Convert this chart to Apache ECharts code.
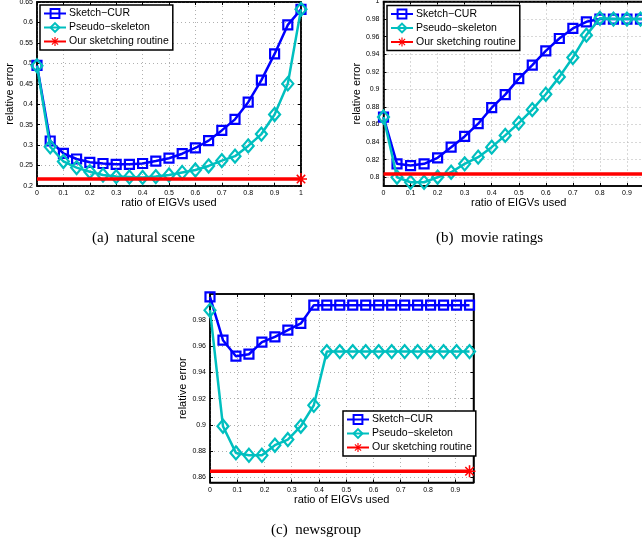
<!DOCTYPE html>
<html><head><meta charset="utf-8">
<script src="https://cdn.jsdelivr.net/npm/echarts@6/dist/echarts.min.js"></script>
<style>html,body{margin:0;padding:0;background:#fff}#c{width:642px;height:548px}</style>
</head><body><div id="c"></div>
<script>
// ---- data ----
const legendNames = ['Sketch\u2212CUR', 'Pseudo\u2212skeleton', 'Our sketching routine'];
const captions = ['(a)  natural scene', '(b)  movie ratings', '(c)  newsgroup'];
const axisTitleX = 'ratio of EIGVs used';
const axisTitleY = 'relative error';

const ratioX = [0,0.05,0.1,0.15,0.2,0.25,0.3,0.35,0.4,0.45,0.5,0.55,0.6,0.65,0.7,0.75,0.8,0.85,0.9,0.95,1];
const newsX = [0,0.0476,0.0952,0.1429,0.1905,0.2381,0.2857,0.3333,0.381,0.4286,0.4762,0.5238,0.5714,0.619,0.6667,0.7143,0.7619,0.8095,0.8571,0.9048,0.9524];

const natCur = [0.495,0.31,0.28,0.266,0.258,0.255,0.253,0.253,0.255,0.261,0.268,0.279,0.293,0.311,0.336,0.363,0.405,0.459,0.523,0.594,0.632];
const natPseudo = [0.494,0.296,0.26,0.245,0.235,0.227,0.223,0.222,0.221,0.223,0.227,0.233,0.239,0.249,0.262,0.273,0.298,0.327,0.375,0.45,0.632];
const natOurs = 0.217;

const movCur = [0.8685,0.8152,0.8133,0.8152,0.8221,0.8342,0.8464,0.8609,0.8791,0.894,0.9122,0.9275,0.9438,0.9579,0.9693,0.9769,0.98,0.98,0.98,0.98,0.98];
const movPseudo = [0.8685,0.80,0.7943,0.7943,0.80,0.8057,0.8152,0.8228,0.8342,0.8476,0.8616,0.8769,0.8944,0.9142,0.9362,0.9617,0.9808,0.98,0.98,0.98,0.98];
const movOurs = 0.8038;

const newsCur = [0.9978,0.9647,0.9525,0.954,0.9632,0.9673,0.9724,0.9775,0.9915,0.9915,0.9915,0.9915,0.9915,0.9915,0.9915,0.9915,0.9915,0.9915,0.9915,0.9915,0.9915];
const newsPseudo = [0.9876,0.899,0.8786,0.8768,0.8768,0.8845,0.8888,0.899,0.915,0.956,0.956,0.956,0.956,0.956,0.956,0.956,0.956,0.956,0.956,0.956,0.956];
const newsOurs = 0.8646;

const xTicksAB = [0,0.1,0.2,0.3,0.4,0.5,0.6,0.7,0.8,0.9,1];
const xTicksC = [0,0.1,0.2,0.3,0.4,0.5,0.6,0.7,0.8,0.9];
const yTicksA = [0.2,0.25,0.3,0.35,0.4,0.45,0.5,0.55,0.6,0.65];
const yTicksB = [0.8,0.82,0.84,0.86,0.88,0.9,0.92,0.94,0.96,0.98,1];
const yTicksC = [0.86,0.88,0.9,0.92,0.94,0.96,0.98];

// ---- styling ----
const BLUE = '#0000ff', CYAN = '#00bfbf', RED = '#ff0000';
const FONT = 'Liberation Sans, Arial, sans-serif';
const STAR = 'path://M-1.3,-10L1.3,-10L1.3,10L-1.3,10Z M-10,-1.3L10,-1.3L10,1.3L-10,1.3Z M-6.1,-7.9L7.9,6.1L6.1,7.9L-7.9,-6.1Z M-6.1,7.9L-7.9,6.1L6.1,-7.9L7.9,-6.1Z';

const panels = [
  {grid:{left:37, top:2, width:264, height:184}, xmin:0, xmax:1, ymin:0.2, ymax:0.65, xticks:xTicksAB, yticks:yTicksA,
   x:ratioX, cur:natCur, pse:natPseudo, ours:natOurs, yGap:19, xGap:10,
   legend:{left:40, top:5}, cap:{left:92, top:231}, right:true},
  {grid:{left:383.5, top:1.5, width:270.5, height:184.5}, xmin:0, xmax:1, ymin:0.79, ymax:1, xticks:xTicksAB, yticks:yTicksB,
   x:ratioX, cur:movCur, pse:movPseudo, ours:movOurs, yGap:18, xGap:10,
   legend:{left:387, top:5.5}, cap:{left:436, top:231}, right:false},
  {grid:{left:210, top:294, width:263.5, height:188.5}, xmin:0, xmax:0.967, ymin:0.856, ymax:1, xticks:xTicksC, yticks:yTicksC,
   x:newsX, cur:newsCur, pse:newsPseudo, ours:newsOurs, yGap:19, xGap:7,
   legend:{left:343, top:411}, cap:{left:271, top:523}, right:true}
];

const option = {
  backgroundColor:'#fff', animation:false,
  grid:[], xAxis:[], yAxis:[], series:[], legend:[], title:[]
};
const splitStyle = {show:true, lineStyle:{color:'#b0b0b0', type:[1,3], width:1}};
const tickBase = {show:true, inside:true, length:3, lineStyle:{color:'#000', width:1}};
const axLine = {show:true, onZero:false, lineStyle:{color:'#000', width:1.5}};
const lab = {color:'#000', fontSize:7, fontFamily:FONT, margin:4};

panels.forEach((p, i) => {
  option.grid.push(Object.assign({show:true, borderColor:'#000', borderWidth:1.5, backgroundColor:'#fff',
    containLabel:false, outerBoundsMode:'none'}, p.grid));
  const xi = option.xAxis.length, yi = option.yAxis.length;
  option.xAxis.push({type:'value', gridIndex:i, min:p.xmin, max:p.xmax, position:'bottom',
    axisLine:axLine, axisTick:Object.assign({customValues:p.xticks}, tickBase),
    axisLabel:Object.assign({customValues:p.xticks}, lab), splitLine:splitStyle,
    name:axisTitleX, nameLocation:'middle', nameGap:p.xGap, nameTextStyle:{color:'#000', fontSize:11, fontFamily:FONT}});
  option.xAxis.push({type:'value', gridIndex:i, min:p.xmin, max:p.xmax, position:'top',
    axisLine:axLine, axisTick:Object.assign({customValues:p.xticks}, tickBase), axisLabel:{show:false}, splitLine:{show:false}});
  option.yAxis.push({type:'value', gridIndex:i, min:p.ymin, max:p.ymax, position:'left',
    axisLine:axLine, axisTick:Object.assign({customValues:p.yticks}, tickBase),
    axisLabel:Object.assign({customValues:p.yticks}, lab), splitLine:splitStyle,
    name:axisTitleY, nameLocation:'middle', nameGap:p.yGap, nameTextStyle:{color:'#000', fontSize:11, fontFamily:FONT}});
  if (p.right) {
    option.yAxis.push({type:'value', gridIndex:i, min:p.ymin, max:p.ymax, position:'right',
      axisLine:axLine, axisTick:Object.assign({customValues:p.yticks}, tickBase), axisLabel:{show:false}, splitLine:{show:false}});
  }
  const curData = p.x.map((v, k) => [v, p.cur[k]]);
  const pseData = p.x.map((v, k) => [v, p.pse[k]]);
  const last = p.x[p.x.length - 1];
  const oursData = [{value:[p.x[0], p.ours], symbol:'none'}, {value:[last, p.ours]}];
  option.series.push({type:'line', name:legendNames[0], xAxisIndex:xi, yAxisIndex:yi, data:curData,
    symbol:'rect', symbolSize:9, showAllSymbol:true, lineStyle:{color:BLUE, width:2.5},
    itemStyle:{color:'rgba(255,255,255,0)', borderColor:BLUE, borderWidth:2.2}, z:2});
  option.series.push({type:'line', name:legendNames[1], xAxisIndex:xi, yAxisIndex:yi, data:pseData,
    symbol:'diamond', symbolSize:[11,13], showAllSymbol:true, lineStyle:{color:CYAN, width:2.5},
    itemStyle:{color:'rgba(255,255,255,0)', borderColor:CYAN, borderWidth:2.2}, z:3});
  option.series.push({type:'line', name:legendNames[2], xAxisIndex:xi, yAxisIndex:yi, data:oursData,
    symbol:STAR, symbolSize:12, showAllSymbol:true, lineStyle:{color:RED, width:3.5},
    itemStyle:{color:RED, borderWidth:0}, z:4});
  option.legend.push({orient:'vertical', left:p.legend.left, top:p.legend.top, itemWidth:22, itemHeight:11, itemGap:3,
    padding:[3,4,3,3], backgroundColor:'#fff', borderColor:'#000', borderWidth:1.5, borderRadius:0,
    textStyle:{color:'#000', fontSize:10.5, fontFamily:FONT, padding:[0,0,0,-2]},
    data:legendNames, selectedMode:false});
  option.title.push({text:captions[i], left:p.cap.left, top:p.cap.top, padding:0,
    textStyle:{color:'#000', fontSize:15, fontWeight:'normal', fontFamily:'Liberation Serif, Times New Roman, serif'}});
});

const chart = echarts.init(document.getElementById('c'), null, {renderer:'canvas'});
chart.setOption(option);
</script></body></html>
